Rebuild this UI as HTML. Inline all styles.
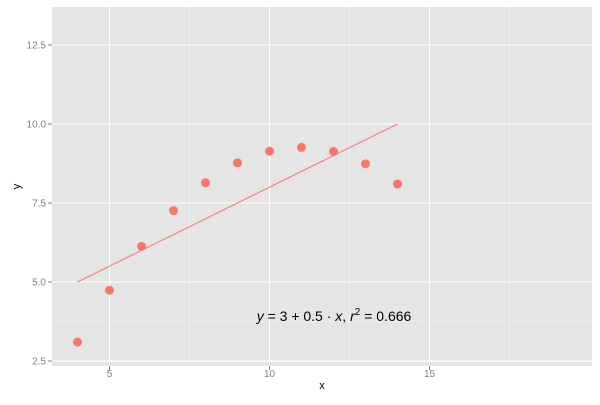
<!DOCTYPE html>
<html><head><meta charset="utf-8"><style>
body{margin:0;background:#fff;font-family:"Liberation Sans",sans-serif}
</style></head><body>
<svg width="600" height="400">
<g id="g"></g>
</svg>
<script>
const xs=[10,8,13,9,11,14,6,4,12,7,5];
const ys=[9.14,8.14,8.74,8.77,9.26,8.10,6.13,3.10,9.13,7.26,4.74];
const xTicks=[5,10,15];
const yTicks=[2.5,5.0,7.5,10.0,12.5];
const fitIntercept=3, fitSlope=0.5;
const L=52,R=592,T=7,B=366;
const sx=v=>109.5+(v-5)*(269.5-109.5)/5;
const sy=v=>361+(v-2.5)*(45-361)/10;
const g=document.getElementById('g');const NS='http://www.w3.org/2000/svg';
function mk(t,a,p){const e=document.createElementNS(NS,t);for(const k in a)e.setAttribute(k,a[k]);(p||g).appendChild(e);return e;}
const bg=mk('rect',{x:L,y:T,width:R-L,height:B-T,fill:'#e5e5e5'});


for(let i=0;i<xTicks.length+1;i++){const v=xTicks[0]-2.5+i*5;const x=sx(v);if(x>L&&x<R){const l=mk('line',{x1:x,x2:x,y1:T,y2:B,stroke:'#f2f2f2','stroke-width':0.6});}}
for(let i=0;i<yTicks.length;i++){const v=yTicks[i]+1.25;const y=sy(v);if(y>T&&y<B){const l=mk('line',{x1:L,x2:R,y1:y,y2:y,stroke:'#f2f2f2','stroke-width':0.6});}}
xTicks.forEach(v=>{const x=sx(v);
const l=mk('line',{x1:x,x2:x,y1:T,y2:B,stroke:'#fff','stroke-width':1.1});
mk('line',{x1:x,x2:x,y1:B,y2:B+4,stroke:'#7f7f7f'});
const t=mk('text',{x:x,y:B+11,'text-anchor':'middle','font-size':10,fill:'#7f7f7f'});t.textContent=v;
});
yTicks.forEach(v=>{const y=sy(v);
const l=mk('line',{x1:L,x2:R,y1:y,y2:y,stroke:'#fff','stroke-width':1.1});
mk('line',{x1:L-4,x2:L,y1:y,y2:y,stroke:'#7f7f7f'});
const t=mk('text',{x:L-6,y:y+3.5,'text-anchor':'end','font-size':10,fill:'#7f7f7f'});t.textContent=v.toFixed(1);
});
const x0=Math.min(...xs),x1=Math.max(...xs);
const fl=mk('line',{x1:sx(x0),y1:sy(fitIntercept+fitSlope*x0),x2:sx(x1),y2:sy(fitIntercept+fitSlope*x1),stroke:'#f8766d','stroke-width':1});

xs.forEach((x,i)=>{const c=mk('circle',{cx:sx(x),cy:sy(ys[i]),r:4.5,fill:'#f8766d'});
});
const eq=mk('text',{x:334,y:321,'text-anchor':'middle','font-size':14,fill:'#000'});
eq.innerHTML='<tspan font-style="italic">y</tspan> = 3 + 0.5 · <tspan font-style="italic">x</tspan>,  <tspan font-style="italic">r</tspan><tspan dy="-6" font-size="10">2</tspan><tspan dy="6"> = 0.666</tspan>';

const xl=mk('text',{x:(L+R)/2,y:389,'text-anchor':'middle','font-size':11});xl.textContent='x';

const yl=mk('text',{x:20,y:(T+B)/2,'text-anchor':'middle','font-size':11,transform:`rotate(-90 20 ${(T+B)/2})`});yl.textContent='y';

</script>
</body></html>
